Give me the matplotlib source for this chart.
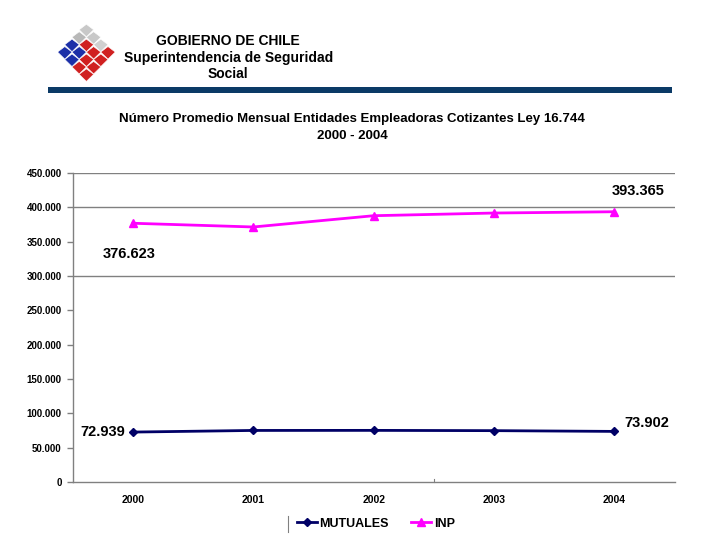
"""
Número Promedio Mensual Entidades Empleadoras Cotizantes Ley 16.744, 2000 - 2004
"""

import matplotlib
matplotlib.use("Agg")
import matplotlib.pyplot as plt
from matplotlib.patches import Polygon, Rectangle
from matplotlib.ticker import FuncFormatter

plt.rcParams['font.family'] = ['Liberation Sans', 'DejaVu Sans']

# datos
anios = ['2000', '2001', '2002', '2003', '2004']
mutuales = [72939, 75300, 75400, 75000, 73902]
inp = [376623, 371200, 387600, 391500, 393365]
y_ticks = list(range(0, 450001, 50000))
grid_vals = [300000, 400000, 450000]

fig = plt.figure(figsize=(7.2, 5.4), dpi=100)

# --- encabezado ---
fig.text(0.317, 0.924, 'GOBIERNO DE CHILE', ha='center', va='center',
         fontsize=10, fontweight='bold')
fig.text(0.317, 0.893, 'Superintendencia de Seguridad', ha='center', va='center',
         fontsize=10, fontweight='bold')
fig.text(0.317, 0.863, 'Social', ha='center', va='center',
         fontsize=10, fontweight='bold')
fig.patches.append(Rectangle((0.067, 0.828), 0.867, 0.010, transform=fig.transFigure,
                             facecolor='#0b3a66', edgecolor='none'))

# logo (rombos)
logo = fig.add_axes([0.080, 0.845, 0.080, 0.11])
logo.set_xlim(-4.0, 4.0)
logo.set_ylim(-6.9, 0.7)
logo.axis('off')
celdas = {(0, 0): '#c8c8c8', (0, 1): '#c8c8c8', (1, 0): '#b8b8b8', (0, 2): '#d0d0d0',
          (1, 1): '#d02020', (2, 0): '#1c2fa8', (3, 0): '#1c2fa8', (2, 1): '#1c2fa8',
          (1, 2): '#d02020', (1, 3): '#d02020', (2, 2): '#d02020', (3, 1): '#1c2fa8',
          (2, 3): '#d02020', (3, 2): '#d02020', (3, 3): '#d02020', (0, 3): '#d02020'}
for (i, j), c in celdas.items():
    cx, cy = (j - i) * 1.0, -(i + j) * 0.95
    logo.add_patch(Polygon([(cx, cy + 0.7), (cx + 1.0, cy), (cx, cy - 0.9), (cx - 1.0, cy)],
                           closed=True, facecolor=c, edgecolor='white', linewidth=0.4))

# --- titulo del grafico ---
fig.text(0.489, 0.779, 'Número Promedio Mensual Entidades Empleadoras Cotizantes Ley 16.744',
         ha='center', va='center', fontsize=9.5, fontweight='bold')
fig.text(0.489, 0.749, '2000 - 2004', ha='center', va='center',
         fontsize=9.5, fontweight='bold')

# --- grafico ---
ax = fig.add_axes([0.101, 0.107, 0.836, 0.573])
x = list(range(len(anios)))
ax.plot(x, mutuales, color='#000066', marker='D', markersize=4.5, linewidth=2,
        label='MUTUALES')
ax.plot(x, inp, color='#ff00ff', marker='^', markersize=6, linewidth=2,
        label='INP')

for v in grid_vals:
    ax.axhline(v, color='#808080', linewidth=1, zorder=0)

ax.set_xlim(-0.5, len(anios) - 0.5)
ax.set_ylim(0, 450000)
ax.set_yticks(y_ticks)
ax.yaxis.set_major_formatter(FuncFormatter(lambda v, p: f'{int(v):,}'.replace(',', '.')))
ax.set_xticks(x)
ax.set_xticklabels(anios)
ax.tick_params(axis='x', length=0, pad=9, labelsize=7.5)
ax.tick_params(axis='y', length=4, width=1, color='#808080', labelsize=7, pad=4)
for lab in ax.get_xticklabels() + ax.get_yticklabels():
    lab.set_fontweight('bold')
for s in ['top', 'right']:
    ax.spines[s].set_visible(False)
for s in ['left', 'bottom']:
    ax.spines[s].set_color('#808080')
    ax.spines[s].set_linewidth(1)
# pequeña marca sobre el eje x entre 2002 y 2003
ax.plot([2.5, 2.5], [0, 4000], color='#808080', linewidth=0.8, clip_on=False)

def fmt(v):
    return f'{v:,}'.replace(',', '.')

ax.annotate(fmt(inp[-1]), (x[-1], inp[-1]), xytext=(17, 15), textcoords='offset points',
            ha='center', va='center', fontsize=10.5, fontweight='bold')
ax.annotate(fmt(inp[0]), (x[0], inp[0]), xytext=(-3, -22), textcoords='offset points',
            ha='center', va='center', fontsize=10.5, fontweight='bold')
ax.annotate(fmt(mutuales[0]), (x[0], mutuales[0]), xytext=(-22, 0), textcoords='offset points',
            ha='center', va='center', fontsize=10.5, fontweight='bold')
ax.annotate(fmt(mutuales[-1]), (x[-1], mutuales[-1]), xytext=(23, 6), textcoords='offset points',
            ha='center', va='center', fontsize=10.5, fontweight='bold')

leg = fig.legend(loc='center', bbox_to_anchor=(0.522, 0.030), ncol=2, frameon=False,
                 fontsize=9, handlelength=1.6, handletextpad=0.2, columnspacing=1.8)
for t in leg.get_texts():
    t.set_fontweight('bold')
fig.add_artist(plt.Line2D([0.40, 0.40], [0.015, 0.045], color='#808080', linewidth=0.8))

plt.savefig('out.png', dpi=100)
plt.close()
